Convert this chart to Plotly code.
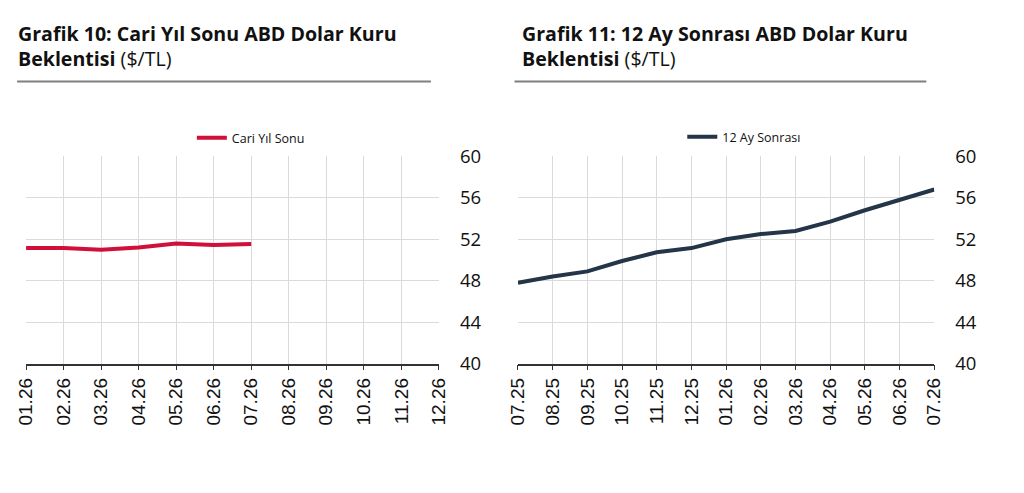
import plotly.graph_objects as go

W, H = 1024, 493
# Calibration of the capture: page = 8px body margin, photo scaled by SX, SY.
SX, SY, PAD = 1024 / 1040, 493 / 509, 8

cats_left = ["01.26", "02.26", "03.26", "04.26", "05.26", "06.26", "07.26",
             "08.26", "09.26", "10.26", "11.26", "12.26"]
vals_left = [51.15, 51.15, 51.0, 51.2, 51.6, 51.45, 51.55, None, None, None, None, None]

cats_right = ["07.25", "08.25", "09.25", "10.25", "11.25", "12.25", "01.26",
              "02.26", "03.26", "04.26", "05.26", "06.26", "07.26"]
vals_right = [47.8, 48.4, 48.9, 49.9, 50.75, 51.15, 52.0, 52.5, 52.8, 53.7, 54.8, 55.8, 56.8]

y_ticks = [40, 44, 48, 52, 56, 60]

RED = "#D0103A"
NAVY = "#243547"
GRID = "#DADADA"

def fx(x):
    return x / SX - PAD

def fy(y):
    return y / SY - PAD

def px(x):
    return fx(x) / W

def py(y):
    return 1 - fy(y) / H

fig = go.Figure()
fig.add_trace(go.Scatter(x=cats_left, y=vals_left, mode="lines", name="Cari Yıl Sonu",
                         line=dict(color=RED, width=4), xaxis="x", yaxis="y",
                         legend="legend", connectgaps=False))
fig.add_trace(go.Scatter(x=cats_right, y=vals_right, mode="lines", name="12 Ay Sonrası",
                         line=dict(color=NAVY, width=4), xaxis="x2", yaxis="y2",
                         legend="legend2"))

xcommon = dict(type="category", showgrid=True, gridcolor=GRID, gridwidth=1,
               showline=True, linecolor="#333", linewidth=1.5,
               ticks="outside", ticklen=5, tickcolor="#333", tickangle=-90,
               tickfont=dict(family="Liberation Sans, Arial", size=19, color="#111"),
               zeroline=False, fixedrange=True)
ycommon = dict(range=[40, 60], tickvals=y_ticks, side="right", showgrid=True,
               gridcolor=GRID, gridwidth=1, zeroline=False, showline=False,
               ticks="", ticklabelstandoff=20,
               tickfont=dict(family="Open Sans", size=18.5, color="#111"))

yd = [py(364.5), py(153)]
legfont = dict(family="Open Sans", size=12.5, color="#111")
fig.update_layout(
    width=W, height=H, margin=dict(l=0, r=0, t=0, b=0),
    paper_bgcolor="white", plot_bgcolor="white",
    xaxis=dict(domain=[px(23), px(438)], range=[0, 11], anchor="y", **xcommon),
    yaxis=dict(domain=yd, anchor="x", **ycommon),
    xaxis2=dict(domain=[px(517.5), px(936)], range=[0, 12], anchor="y2", **xcommon),
    yaxis2=dict(domain=yd, anchor="x2", **ycommon),
    legend=dict(x=px(249), y=py(134.5), xanchor="center", yanchor="middle",
                orientation="h", font=legfont, bgcolor="rgba(0,0,0,0)"),
    legend2=dict(x=px(745), y=py(133.5), xanchor="center", yanchor="middle",
                 orientation="h", font=legfont, bgcolor="rgba(0,0,0,0)"),
    showlegend=True,
)

title_font = dict(family="Open Sans", size=19.6, color="#111")
titles = [
    (5.0, "<b>Grafik 10: Cari Yıl Sonu ABD Dolar Kuru</b><br><b>Beklentisi</b> ($/TL)"),
    (519.5, "<b>Grafik 11: 12 Ay Sonrası ABD Dolar Kuru</b><br><b>Beklentisi</b> ($/TL)"),
]
for x0, txt in titles:
    fig.add_annotation(text=txt, xref="paper", yref="paper", x=x0 / W, y=1 - 4.2 / H,
                       xanchor="left", yanchor="top", align="left", showarrow=False,
                       font=title_font)

for x0, x1 in [(14, 430), (514, 928)]:
    fig.add_shape(type="line", xref="paper", yref="paper", x0=px(x0), x1=px(x1),
                  y0=py(76.5), y1=py(76.5), line=dict(color="#7f7f7f", width=2))

fig.write_html("out.html")
